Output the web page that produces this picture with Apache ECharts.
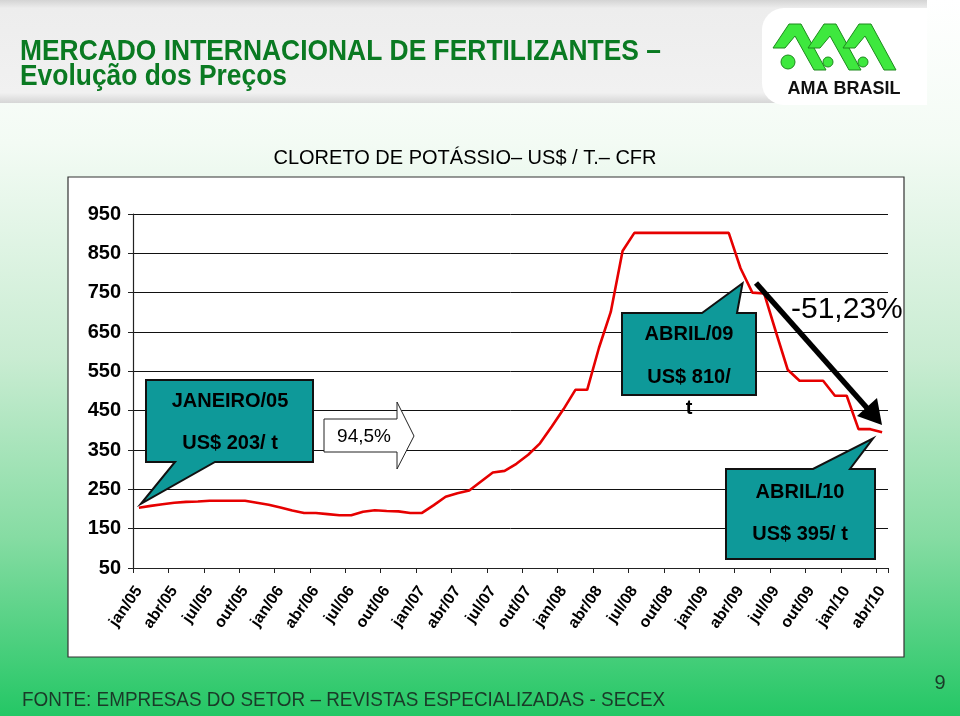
<!DOCTYPE html>
<html>
<head>
<meta charset="utf-8">
<script src="https://cdn.jsdelivr.net/npm/echarts@6/dist/echarts.min.js"></script>
<style>
html,body{margin:0;padding:0;background:#fff;}
#c{width:960px;height:716px;}
</style>
</head>
<body>
<div id="c"></div>
<script>
// ---- data ----
const monthNames = ['jan','fev','mar','abr','mai','jun','jul','ago','set','out','nov','dez'];
const years = ['05','06','07','08','09','10'];
const categories = [];
years.forEach(function(y, yi){
  monthNames.forEach(function(m, mi){
    if (yi < 5 || mi < 4) categories.push(m + '/' + y);
  });
});
const prices = [
  203, 208, 212, 216, 218, 219, 221, 221, 221, 221, 216, 211,
  204, 196, 190, 190, 187, 184, 184, 193, 197, 195, 194, 190,
  190, 210, 231, 240, 247, 270, 293, 297, 315, 338, 367, 410,
  454, 503, 503, 610, 701, 856, 902, 902, 902, 902, 902, 902,
  902, 902, 902, 812, 750, 748, 650, 554, 526, 526, 526, 488,
  488, 403, 403, 395
];
const yTicks = [50, 150, 250, 350, 450, 550, 650, 750, 850, 950];

const chart = echarts.init(document.getElementById('c'), null, {renderer: 'canvas'});
const FONT = '"Liberation Sans", Arial, sans-serif';

function bg() {
  return [
    {type:'rect', z:-20, silent:true, shape:{x:0,y:0,width:960,height:716},
     style:{fill:new echarts.graphic.LinearGradient(0,0,0,1,[
       {offset:0,color:'#ffffff'},{offset:0.2,color:'#f3fbf4'},
       {offset:0.5,color:'#c9ecd2'},{offset:0.75,color:'#86dca3'},
       {offset:1,color:'#24c765'}])}},
    {type:'rect', z:-19, silent:true, shape:{x:0,y:0,width:927,height:103},
     style:{fill:new echarts.graphic.LinearGradient(0,0,0,1,[
       {offset:0,color:'#d4d4d4'},{offset:0.08,color:'#ededed'},
       {offset:0.9,color:'#f1f1f1'},{offset:1,color:'#d6d6d6'}])}},
    {type:'rect', z:-18, silent:true, shape:{x:762,y:8,width:165,height:97,r:[22,0,0,22]},
     style:{fill:'#ffffff'}},
    {type:'rect', z:-17, silent:true, shape:{x:68,y:177,width:836,height:480},
     style:{fill:'#ffffff', stroke:'#333333', lineWidth:1.2}}
  ];
}

function logo() {
  const out = [];
  const apexes = [794, 829, 864];
  apexes.forEach(function(ax, k){
    out.push({type:'polygon', z:50, silent:true,
      shape:{points:[[ax-5,24],[ax+7,24],[ax+32,70],[ax+20,70],[ax+1,36],[ax-9,48],[ax-21,48]]},
      style:{fill:'#3ee83e', stroke:'#1d8a1d', lineWidth:1}});
    out.push({type:'circle', z:51, silent:true,
      shape:{cx: (k===0? ax-6 : ax-1), cy:62, r:(k===0?7:5)},
      style:{fill:'#3ee83e', stroke:'#1d8a1d', lineWidth:1}});
  });
  out.push({type:'text', z:52, silent:true, style:{text:'AMA BRASIL', x:844, y:89,
    textAlign:'center', textVerticalAlign:'middle', fill:'#111', font:'bold 18px ' + FONT}});
  return out;
}

function texts() {
  return [
    {type:'text', z:30, silent:true, x:20, y:52, scaleX:0.88,
      style:{text:'MERCADO INTERNACIONAL DE FERTILIZANTES –',
      textVerticalAlign:'middle', fill:'#0a7a22', font:'bold 30px ' + FONT}},
    {type:'text', z:30, silent:true, x:20, y:77, scaleX:0.88,
      style:{text:'Evolução dos Preços',
      textVerticalAlign:'middle', fill:'#0a7a22', font:'bold 30px ' + FONT}},
    {type:'text', z:30, silent:true, style:{text:'CLORETO DE POTÁSSIO– US$ / T.– CFR', x:465, y:158,
      textAlign:'center', textVerticalAlign:'middle', fill:'#000', font:'20px ' + FONT}},
    {type:'text', z:30, silent:true, x:22, y:700, scaleX:0.9,
      style:{text:'FONTE: EMPRESAS DO SETOR – REVISTAS ESPECIALIZADAS - SECEX',
      textVerticalAlign:'middle', fill:'#1a3a28', font:'21px ' + FONT}},
    {type:'text', z:30, silent:true, style:{text:'9', x:940, y:683,
      textAlign:'center', textVerticalAlign:'middle', fill:'#1a3a28', font:'20px ' + FONT}}
  ];
}

function callout(box, base, tip, lines, top) {
  const [x1,y1,x2,y2] = box;
  let pts;
  if (top) {
    pts = [[x1,y1],[base[0],y1],tip,[base[1],y1],[x2,y1],[x2,y2],[x1,y2]];
  } else {
    pts = [[x1,y1],[x2,y1],[x2,y2],[base[1],y2],tip,[base[0],y2],[x1,y2]];
  }
  const els = [{type:'polygon', z:60, silent:true, shape:{points:pts},
    style:{fill:'#0e9999', stroke:'#111', lineWidth:2}}];
  lines.forEach(function(l){
    els.push({type:'text', z:61, silent:true, style:{text:l[0], x:l[1], y:l[2],
      textAlign:'center', textVerticalAlign:'middle', fill:'#000', font:'bold 20px ' + FONT}});
  });
  return els;
}

function annotations() {
  const p0 = chart.convertToPixel({gridIndex:0}, [0, prices[0]]);
  const p51 = chart.convertToPixel({gridIndex:0}, [51, prices[51]]);
  const p63 = chart.convertToPixel({gridIndex:0}, [63, prices[63]]);
  let els = [];
  els = els.concat(callout([146,380,313,462],[175,215],[p0[0]+2,p0[1]-4],
    [['JANEIRO/05',230,401],['US$ 203/ t',230,443]], false));
  els = els.concat(callout([622,313,756,395],[702,737],[p51[0]+2,p51[1]+15],
    [['ABRIL/09',689,334],['US$ 810/',689,377]], true));
  els.push({type:'text', z:61, silent:true, style:{text:'t', x:689, y:408,
      textAlign:'center', textVerticalAlign:'middle', fill:'#000', font:'bold 20px ' + FONT}});
  els = els.concat(callout([726,469,875,559],[813,850],[p63[0]-9,p63[1]+6],
    [['ABRIL/10',800,492],['US$ 395/ t',800,534]], true));
  els.push({type:'polygon', z:60, silent:true,
    shape:{points:[[324,419],[397,419],[397,402],[414,436],[397,469],[397,452],[324,452]]},
    style:{fill:'#fff', stroke:'#222', lineWidth:1}});
  els.push({type:'text', z:61, silent:true, style:{text:'94,5%', x:364, y:437,
    textAlign:'center', textVerticalAlign:'middle', fill:'#000', font:'19px ' + FONT}});
  els.push({type:'line', z:62, silent:true, shape:{x1:756,y1:283,x2:867,y2:408},
    style:{stroke:'#000', lineWidth:5.5}});
  els.push({type:'polygon', z:62, silent:true,
    shape:{points:[[882,425],[857,416],[877,398]]}, style:{fill:'#000'}});
  els.push({type:'text', z:61, silent:true, style:{text:'-51,23%', x:791, y:310,
    textVerticalAlign:'middle', fill:'#000', font:'30px ' + FONT}});
  return els;
}

const option = {
  animation: false,
  backgroundColor: 'transparent',
  grid: {left:133, right:72, top:214, bottom:148, containLabel:false},
  xAxis: {
    type:'category', data: categories, boundaryGap: true,
    axisLine: {show:true, lineStyle:{color:'#222', width:1.2}},
    axisTick: {show:true, interval:2, length:5, lineStyle:{color:'#222'}},
    axisLabel: {interval:2, rotate:55, margin:20, color:'#000',
      fontFamily: FONT, fontWeight:'bold', fontSize:16}
  },
  yAxis: {
    type:'value', min:50, max:950, interval:100,
    axisLine: {show:true, lineStyle:{color:'#222', width:1.2}},
    axisTick: {show:true, inside:false, length:5, lineStyle:{color:'#222'}},
    axisLabel: {color:'#000', fontFamily: FONT, fontWeight:'bold', fontSize:20, margin:12,
      formatter: function(v){ return yTicks.indexOf(v) >= 0 ? String(v) : ''; }},
    splitLine: {show:true, lineStyle:{color:'#111', width:1}}
  },
  series: [{
    type:'line', data: prices, showSymbol:false, symbol:'none', z:5,
    lineStyle:{color:'#e60000', width:2.6}
  }],
  graphic: bg().concat(logo(), texts())
};
chart.setOption(option);
chart.setOption({graphic: bg().concat(logo(), texts(), annotations())}, {replaceMerge:['graphic']});
</script>
</body>
</html>
